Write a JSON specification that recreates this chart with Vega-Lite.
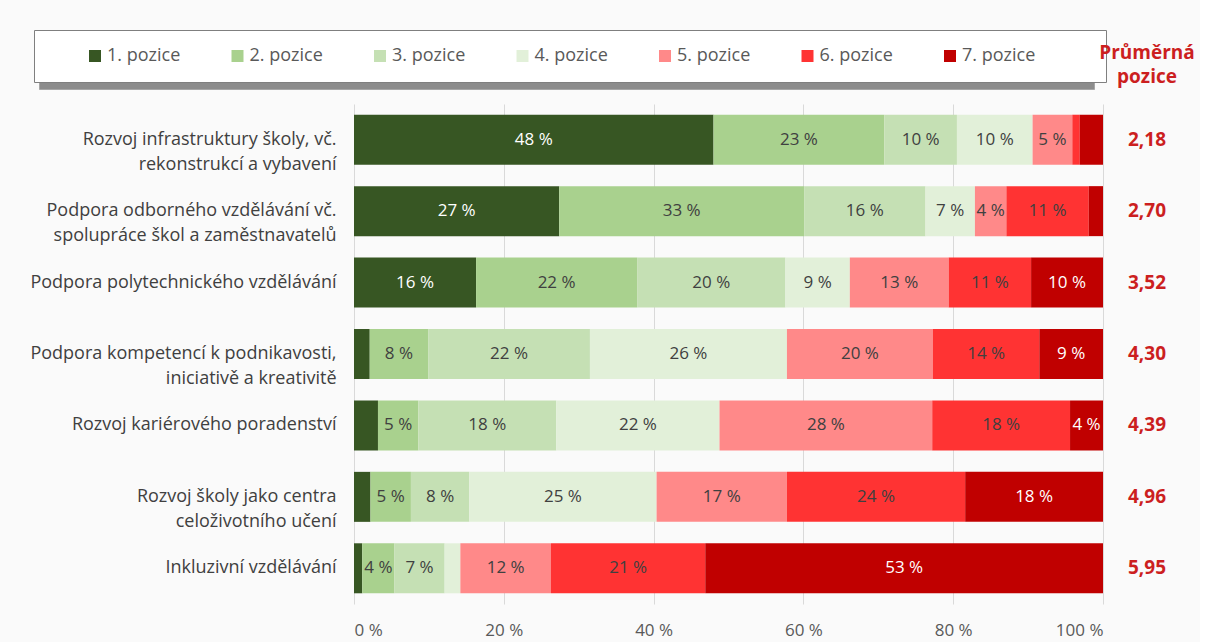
{
  "$schema": "https://vega.github.io/schema/vega-lite/v6.json",
  "background": "#fafafa",
  "padding": {"left": 29, "top": 29, "right": 5, "bottom": 5},
  "spacing": 0,
  "bounds": "flush",
  "config": {
    "view": {"stroke": null},
    "font": "Open Sans",
    "text": {"font": "Open Sans"}
  },
  "resolve": {"legend": {"color": "independent", "opacity": "independent"}},
  "datasets": {
    "shares": [
      {"cat": "Rozvoj infrastruktury školy, vč.\nrekonstrukcí a vybavení", "pos": "1. pozice", "value": 48.0},
      {"cat": "Rozvoj infrastruktury školy, vč.\nrekonstrukcí a vybavení", "pos": "2. pozice", "value": 22.8},
      {"cat": "Rozvoj infrastruktury školy, vč.\nrekonstrukcí a vybavení", "pos": "3. pozice", "value": 9.7},
      {"cat": "Rozvoj infrastruktury školy, vč.\nrekonstrukcí a vybavení", "pos": "4. pozice", "value": 10.1},
      {"cat": "Rozvoj infrastruktury školy, vč.\nrekonstrukcí a vybavení", "pos": "5. pozice", "value": 5.3},
      {"cat": "Rozvoj infrastruktury školy, vč.\nrekonstrukcí a vybavení", "pos": "6. pozice", "value": 1.0},
      {"cat": "Rozvoj infrastruktury školy, vč.\nrekonstrukcí a vybavení", "pos": "7. pozice", "value": 3.1},
      {"cat": "Podpora odborného vzdělávání vč.\nspolupráce škol a zaměstnavatelů", "pos": "1. pozice", "value": 27.4},
      {"cat": "Podpora odborného vzdělávání vč.\nspolupráce škol a zaměstnavatelů", "pos": "2. pozice", "value": 32.7},
      {"cat": "Podpora odborného vzdělávání vč.\nspolupráce škol a zaměstnavatelů", "pos": "3. pozice", "value": 16.2},
      {"cat": "Podpora odborného vzdělávání vč.\nspolupráce škol a zaměstnavatelů", "pos": "4. pozice", "value": 6.6},
      {"cat": "Podpora odborného vzdělávání vč.\nspolupráce škol a zaměstnavatelů", "pos": "5. pozice", "value": 4.2},
      {"cat": "Podpora odborného vzdělávání vč.\nspolupráce škol a zaměstnavatelů", "pos": "6. pozice", "value": 11.0},
      {"cat": "Podpora odborného vzdělávání vč.\nspolupráce škol a zaměstnavatelů", "pos": "7. pozice", "value": 1.9},
      {"cat": "Podpora polytechnického vzdělávání", "pos": "1. pozice", "value": 16.3},
      {"cat": "Podpora polytechnického vzdělávání", "pos": "2. pozice", "value": 21.5},
      {"cat": "Podpora polytechnického vzdělávání", "pos": "3. pozice", "value": 19.8},
      {"cat": "Podpora polytechnického vzdělávání", "pos": "4. pozice", "value": 8.6},
      {"cat": "Podpora polytechnického vzdělávání", "pos": "5. pozice", "value": 13.2},
      {"cat": "Podpora polytechnického vzdělávání", "pos": "6. pozice", "value": 11.0},
      {"cat": "Podpora polytechnického vzdělávání", "pos": "7. pozice", "value": 9.6},
      {"cat": "Podpora kompetencí k podnikavosti,\niniciativě a kreativitě", "pos": "1. pozice", "value": 2.1},
      {"cat": "Podpora kompetencí k podnikavosti,\niniciativě a kreativitě", "pos": "2. pozice", "value": 7.8},
      {"cat": "Podpora kompetencí k podnikavosti,\niniciativě a kreativitě", "pos": "3. pozice", "value": 21.6},
      {"cat": "Podpora kompetencí k podnikavosti,\niniciativě a kreativitě", "pos": "4. pozice", "value": 26.3},
      {"cat": "Podpora kompetencí k podnikavosti,\niniciativě a kreativitě", "pos": "5. pozice", "value": 19.5},
      {"cat": "Podpora kompetencí k podnikavosti,\niniciativě a kreativitě", "pos": "6. pozice", "value": 14.2},
      {"cat": "Podpora kompetencí k podnikavosti,\niniciativě a kreativitě", "pos": "7. pozice", "value": 8.5},
      {"cat": "Rozvoj kariérového poradenství", "pos": "1. pozice", "value": 3.2},
      {"cat": "Rozvoj kariérového poradenství", "pos": "2. pozice", "value": 5.4},
      {"cat": "Rozvoj kariérového poradenství", "pos": "3. pozice", "value": 18.4},
      {"cat": "Rozvoj kariérového poradenství", "pos": "4. pozice", "value": 21.8},
      {"cat": "Rozvoj kariérového poradenství", "pos": "5. pozice", "value": 28.4},
      {"cat": "Rozvoj kariérového poradenství", "pos": "6. pozice", "value": 18.4},
      {"cat": "Rozvoj kariérového poradenství", "pos": "7. pozice", "value": 4.4},
      {"cat": "Rozvoj školy jako centra\nceloživotního učení", "pos": "1. pozice", "value": 2.2},
      {"cat": "Rozvoj školy jako centra\nceloživotního učení", "pos": "2. pozice", "value": 5.4},
      {"cat": "Rozvoj školy jako centra\nceloživotního učení", "pos": "3. pozice", "value": 7.8},
      {"cat": "Rozvoj školy jako centra\nceloživotního učení", "pos": "4. pozice", "value": 25.0},
      {"cat": "Rozvoj školy jako centra\nceloživotního učení", "pos": "5. pozice", "value": 17.4},
      {"cat": "Rozvoj školy jako centra\nceloživotního učení", "pos": "6. pozice", "value": 23.8},
      {"cat": "Rozvoj školy jako centra\nceloživotního učení", "pos": "7. pozice", "value": 18.4},
      {"cat": "Inkluzivní vzdělávání", "pos": "1. pozice", "value": 1.1},
      {"cat": "Inkluzivní vzdělávání", "pos": "2. pozice", "value": 4.3},
      {"cat": "Inkluzivní vzdělávání", "pos": "3. pozice", "value": 6.7},
      {"cat": "Inkluzivní vzdělávání", "pos": "4. pozice", "value": 2.1},
      {"cat": "Inkluzivní vzdělávání", "pos": "5. pozice", "value": 12.1},
      {"cat": "Inkluzivní vzdělávání", "pos": "6. pozice", "value": 20.6},
      {"cat": "Inkluzivní vzdělávání", "pos": "7. pozice", "value": 53.1}
    ],
    "avg": [
      {"cat": "Rozvoj infrastruktury školy, vč.\nrekonstrukcí a vybavení", "avg": 2.18},
      {"cat": "Podpora odborného vzdělávání vč.\nspolupráce škol a zaměstnavatelů", "avg": 2.70},
      {"cat": "Podpora polytechnického vzdělávání", "avg": 3.52},
      {"cat": "Podpora kompetencí k podnikavosti,\niniciativě a kreativitě", "avg": 4.30},
      {"cat": "Rozvoj kariérového poradenství", "avg": 4.39},
      {"cat": "Rozvoj školy jako centra\nceloživotního učení", "avg": 4.96},
      {"cat": "Inkluzivní vzdělávání", "avg": 5.95}
    ]
  },
  "hconcat": [
    {
      "width": 749,
      "height": 500,
      "data": {"name": "shares"},
      "transform": [
        {"stack": "value", "groupby": ["cat"], "sort": [{"field": "pos", "order": "ascending"}], "as": ["v0", "v1"]},
        {"calculate": "(datum.v0 + datum.v1) / 2", "as": "mid"},
        {"calculate": "format(round(datum.value), 'd') + ' %'", "as": "lbl"},
        {"calculate": "datum.pos", "as": "pozice"}
      ],
      "encoding": {
        "y": {
          "field": "cat", "type": "nominal", "sort": null,
          "scale": {"paddingInner": 0.3, "paddingOuter": 0.15},
          "axis": {
            "title": null, "ticks": false, "domain": false,
            "labelFont": "Open Sans", "labelFontSize": 18, "labelColor": "#404040",
            "labelPadding": 18, "labelLineHeight": 25, "labelLimit": 400,
            "labelExpr": "length(split(datum.label, '\\n')) > 1 ? [split(datum.label, '\\n')[0], pad(split(datum.label, '\\n')[1], length(split(datum.label, '\\n')[1]) + round((length(split(datum.label, '\\n')[0]) - length(split(datum.label, '\\n')[1])) * 0.8), '\u00a0')] : datum.label"
          }
        }
      },
      "layer": [
        {
          "mark": {"type": "bar"},
          "encoding": {
            "x": {
              "field": "v0", "type": "quantitative",
              "scale": {"domain": [0, 100], "nice": false},
              "axis": {
                "title": null, "values": [0, 20, 40, 60, 80, 100],
                "labelExpr": "datum.value + ' %'",
                "ticks": false, "domain": false,
                "grid": true, "gridColor": "#d9d9d9", "gridWidth": 1,
                "labelFont": "Open Sans", "labelFontSize": 17, "labelColor": "#595959",
                "labelPadding": 18
              }
            },
            "x2": {"field": "v1"},
            "color": {
              "field": "pos", "type": "nominal",
              "scale": {
                "domain": ["1. pozice", "2. pozice", "3. pozice", "4. pozice", "5. pozice", "6. pozice", "7. pozice"],
                "range": ["#375623", "#a9d18e", "#c5e0b4", "#e2f0d9", "#ff8989", "#ff3333", "#c00000"]
              },
              "legend": {
                "orient": "none", "legendX": -320, "legendY": -74, "zindex": 2,
                "direction": "horizontal", "columns": 7,
                "title": "\u00a0", "titleOrient": "right", "titlePadding": 54, "titleFontSize": 18,
                "symbolType": "square", "symbolSize": 144, "symbolStrokeWidth": 0, "symbolOpacity": 1,
                "symbolOffset": 35,
                "labelFont": "Open Sans", "labelFontSize": 18, "labelColor": "#595959", "labelOffset": 3,
                "padding": 17, "strokeColor": "#7f7f7f", "fillColor": "#ffffff",
                "columnPadding": 12.5, "gridAlign": "all"
              }
            },
            "opacity": {
              "field": "pozice", "type": "nominal",
              "scale": {"range": [1, 1, 1, 1, 1, 1, 1]},
              "legend": {
                "orient": "none", "legendX": -315, "legendY": -67, "zindex": 1,
                "direction": "horizontal", "columns": 7,
                "title": "\u00a0", "titleOrient": "right", "titlePadding": 31, "titleFontSize": 18,
                "symbolType": "square", "symbolSize": 324, "symbolStrokeWidth": 0, "symbolOpacity": 0,
                "labelExpr": "''", "labelOffset": 0, "labelFontSize": 18,
                "padding": 17, "strokeColor": "#a6a6a6", "fillColor": "#8c8c8c",
                "columnPadding": 144, "gridAlign": "all"
              }
            }
          }
        },
        {
          "transform": [{"filter": "datum.value >= 3.5"}],
          "mark": {"type": "text", "font": "Open Sans", "fontSize": 17, "align": "center", "baseline": "middle"},
          "encoding": {
            "x": {"field": "mid", "type": "quantitative"},
            "text": {"field": "lbl"},
            "color": {
              "condition": {"test": "datum.pos === '1. pozice' || datum.pos === '7. pozice'", "value": "#ffffff"},
              "value": "#404040"
            }
          }
        }
      ]
    },
    {
      "width": 88,
      "height": 500,
      "data": {"name": "avg"},
      "transform": [
        {"calculate": "replace(format(datum.avg, '.2f'), '.', ',')", "as": "avgText"}
      ],
      "title": {
        "text": ["Průměrná", "pozice"], "font": "Open Sans", "fontSize": 19, "fontWeight": "bold",
        "color": "#cc1f1f", "anchor": "middle", "offset": 17, "lineHeight": 24
      },
      "mark": {"type": "text", "font": "Open Sans", "fontSize": 19, "fontWeight": "bold", "color": "#cc1f1f", "align": "center", "baseline": "middle"},
      "encoding": {
        "y": {
          "field": "cat", "type": "nominal", "sort": null,
          "scale": {"paddingInner": 0.3, "paddingOuter": 0.15},
          "axis": null
        },
        "text": {"field": "avgText"}
      }
    }
  ]
}
